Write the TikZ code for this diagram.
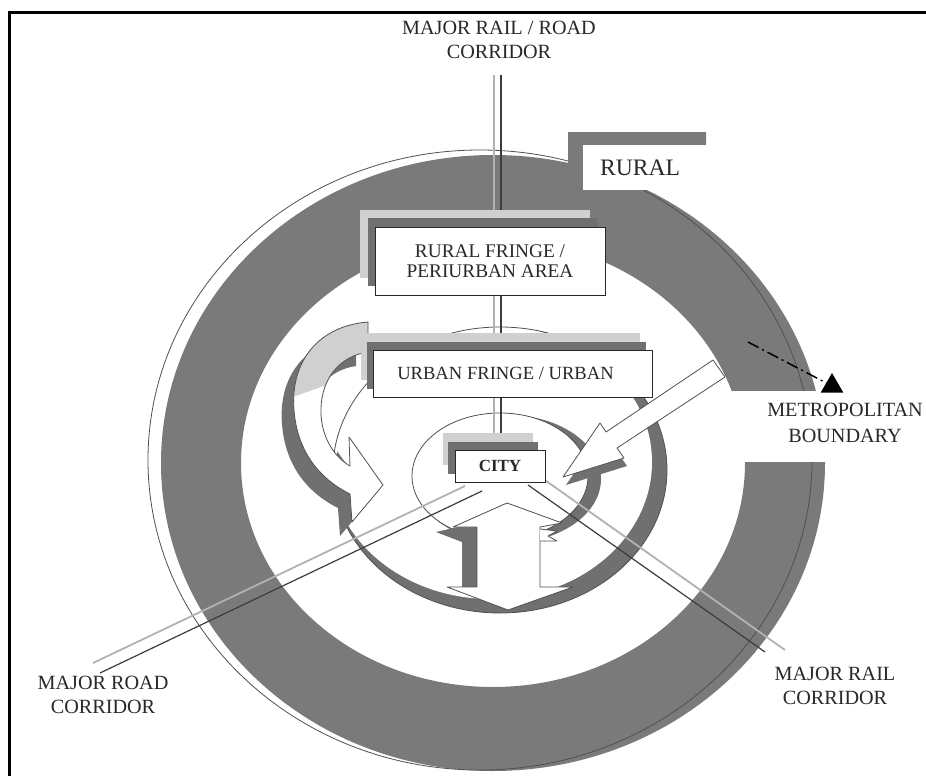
\documentclass[tikz,border=0pt]{standalone}
\usepackage{fontspec}
\setmainfont{Liberation Serif}
\usetikzlibrary{shapes.geometric}
\definecolor{ringgray}{RGB}{122,122,122}
\definecolor{shadowgray}{RGB}{112,112,112}
\definecolor{palegray}{RGB}{208,208,208}
\definecolor{ink}{RGB}{40,40,40}
\definecolor{railpale}{RGB}{178,178,178}
\definecolor{raildark}{RGB}{60,60,60}
\definecolor{edgegray}{RGB}{80,80,80}
\begin{document}
\begin{tikzpicture}[x=1pt,y=-1pt,
  lbl/.style={text=ink,font=\fontsize{20.2}{24}\selectfont,align=center,inner sep=0pt},
  zonebox/.style={draw=ink,line width=0.9pt,fill=white,text=ink,inner sep=0pt,align=center,font=\fontsize{19.3}{20.5}\selectfont},
  thinline/.style={draw=edgegray,line width=0.8pt},
  palerail/.style={draw=railpale,line width=1.8pt},
  darkrail/.style={draw=raildark,line width=1.2pt},
  ribbon/.style={fill=white,draw=edgegray,line width=0.8pt,line join=round},
]
\useasboundingbox (0,0) rectangle (926,776);
\fill[white] (0,0) rectangle (926,776);
\draw[line width=3pt] (9,776) -- (9,12.5) -- (926,12.5);

% rural belt with the metropolitan boundary line
\fill[ringgray,even odd rule] (493,463) ellipse [x radius=332pt,y radius=308pt]
                              (493,463) ellipse [x radius=252pt,y radius=224pt];
\draw[thinline] (480,460) ellipse [x radius=332pt,y radius=310pt];
\fill[white] (732,391) rectangle (845,462);
\fill[ringgray] (568,132) -- (706,132) -- (706,145) -- (583,145) -- (583,200) -- (568,200) -- cycle;
\fill[white] (583,145) rectangle (720,190);
\node[text=ink,font=\fontsize{23.6}{26}\selectfont,inner sep=0pt] (rural) at (640,168) {RURAL};

% urban circle with its shaded rim
\fill[shadowgray] (500,470) ellipse [x radius=167pt,y radius=143pt];
\fill[white] (491,462) ellipse [x radius=161pt,y radius=137pt];
\draw[thinline] (500,470) ellipse [x radius=167pt,y radius=143pt];

% city circle with its shaded rim
\fill[shadowgray] (508,479) ellipse [x radius=93pt,y radius=64pt];
\fill[white] (500,476) ellipse [x radius=88pt,y radius=63pt];
\draw[thinline] (500,476) ellipse [x radius=88pt,y radius=63pt];

% corridors
\coordinate (vP1) at (494,75);  \coordinate (vP2) at (494,433);
\coordinate (vD1) at (501,75);  \coordinate (vD2) at (501,433);
\draw[palerail] (vP1) -- (vP2);
\draw[darkrail] (vD1) -- (vD2);
\coordinate (rdP1) at (465,486); \coordinate (rdP2) at (93,663);
\coordinate (rdD1) at (482,491); \coordinate (rdD2) at (100,673);
\draw[palerail] (rdP1) -- (rdP2);
\draw[darkrail] (rdD1) -- (rdD2);
\coordinate (rlP1) at (542,478); \coordinate (rlP2) at (785,650);
\coordinate (rlD1) at (528,485); \coordinate (rlD2) at (765,652);
\draw[palerail] (rlP1) -- (rlP2);
\draw[darkrail] (rlD1) -- (rlD2);

% curved flow arrow on the left
\def\flowC{(368,322) .. controls (318,326) and (290,362) .. (294,410)
  .. controls (297,450) and (318,478) .. (350,494) -- (352,522) -- (383,485)
  -- (349,437) -- (350,466) .. controls (331,455) and (320,432) .. (321,408)
  .. controls (322,378) and (340,356) .. (368,352) -- cycle}
\fill[shadowgray,shift={(-12,14)}] \flowC;
\fill[white] \flowC;
\begin{scope}
  \clip \flowC;
  \fill[palegray] (280,300) -- (380,300) -- (380,366) -- (290,398) -- cycle;
\end{scope}
\draw[edgegray,line width=0.8pt,line join=round] \flowC;

% outward flow arrow below the city
\fill[shadowgray] (462,526) rectangle (477,587);
\fill[shadowgray] (436,532) -- (462,526) -- (462,542) -- cycle;
\filldraw[ribbon] (477,527) -- (453,527) -- (507,503) -- (562,523) -- (540,527)
  -- (540,587) -- (573,587) -- (508,610) -- (447,587) -- (477,587) -- cycle;
\filldraw[ribbon] (540,529) -- (557,531) -- (548,536) -- (557,541) -- (540,541);

% inward flow arrow from the upper right
\fill[shadowgray] (566,485) -- (603,431) -- (627,466) -- cycle;
\filldraw[ribbon] (563,477) -- (600,423) -- (606,432) -- (713,360) -- (725,377)
  -- (617,448) -- (624,458) -- cycle;

% zone boxes with stacked shadows
\fill[palegray] (360,210) rectangle (590,278);
\fill[shadowgray] (368,218) rectangle (598,286);
\node[zonebox,minimum width=230pt,minimum height=68pt] (fringe) at (490,261)
  {RURAL FRINGE /\\PERIURBAN AREA};
\fill[palegray] (361,333) rectangle (640,380);
\fill[shadowgray] (367,342) rectangle (646,389);
\node[zonebox,minimum width=279pt,minimum height=47pt,font=\fontsize{18.6}{20}\selectfont] (urban) at (512.5,373.5)
  {URBAN FRINGE / URBAN\hspace{14pt}};
\fill[palegray] (443,433) rectangle (533,465);
\fill[shadowgray] (448,442) rectangle (538,474);
\node[zonebox,minimum width=90pt,minimum height=32pt,font=\bfseries\fontsize{17}{20}\selectfont] (city) at (500,466) {CITY};

% labels
\node[lbl] (toplbl) at (499,40) {MAJOR RAIL / ROAD\\CORRIDOR};
\node[lbl] (roadlbl) at (103,695) {MAJOR ROAD\\CORRIDOR};
\node[lbl] (raillbl) at (835,686) {MAJOR RAIL\\CORRIDOR};
\node[lbl,font=\fontsize{20.2}{26}\selectfont] (metrolbl) at (845,423) {METROPOLITAN\\BOUNDARY};

% boundary pointer
\coordinate (mstart) at (748,342);
\node[regular polygon,regular polygon sides=3,fill=black,inner sep=0pt,minimum size=26pt] (tri) at (832,386) {};
\draw[line width=1.5pt,dash pattern=on 12pt off 4pt on 2pt off 4pt] (mstart) -- (tri.center);
\end{tikzpicture}
\end{document}
